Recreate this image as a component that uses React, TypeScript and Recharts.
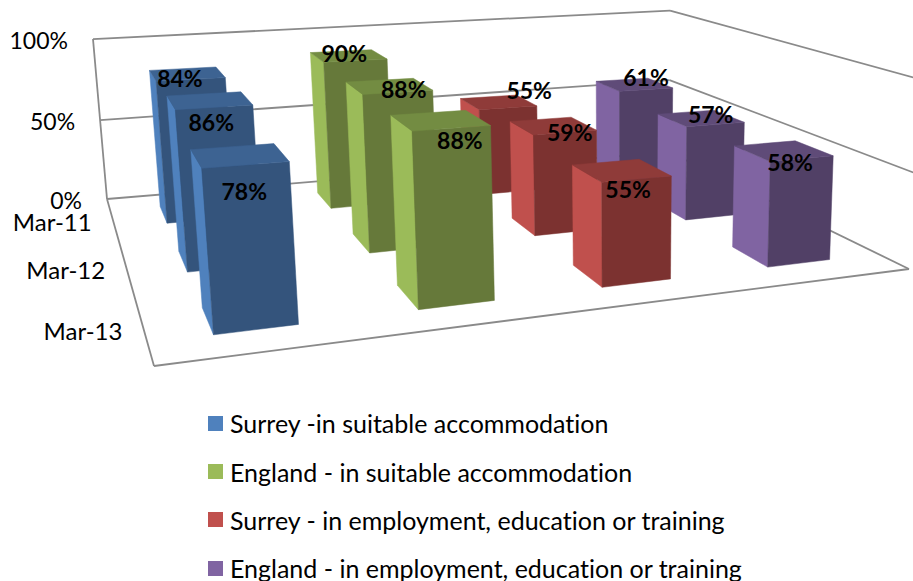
import React from 'react';
import { Bar, BarChart, Customized, LabelList, Legend, XAxis, YAxis } from 'recharts';

const CHART_W = 913;
const CHART_H = 581;
const FONT = 'Lato, sans-serif';

const SERIES = [
  'Surrey -in suitable accommodation',
  'England - in suitable accommodation',
  'Surrey - in employment, education or training',
  'England - in employment, education or training',
];
const DATES = ['Mar-11', 'Mar-12', 'Mar-13'];
const PERCENT_TICKS = [100, 50, 0];

const SURREY_ACCOMMODATION = [84, 86, 78];
const ENGLAND_ACCOMMODATION = [90, 88, 88];
const SURREY_EMPLOYMENT = [55, 59, 55];
const ENGLAND_EMPLOYMENT = [61, 57, 58];

const VALUES = [SURREY_ACCOMMODATION, ENGLAND_ACCOMMODATION, SURREY_EMPLOYMENT, ENGLAND_EMPLOYMENT];

const rows = SERIES.map((name, s) => {
  const row: Record<string, string | number> = { name };
  DATES.forEach((date, d) => {
    row[date] = VALUES[s][d];
  });
  return row;
});

// side, front and top shades per series
const FACES = [
  { side: '#4F81BD', front: '#34547C', top: '#3D6392' },
  { side: '#9BBB59', front: '#66793A', top: '#738C42' },
  { side: '#C0504D', front: '#7C3230', top: '#8F3B39' },
  { side: '#8064A2', front: '#514066', top: '#5F4B78' },
];

// label shift from the centre of a bar's top face, by date then series
const LABEL_SHIFT = [
  [[-7, 4], [-4, -3], [31, -12], [12, -8]],
  [[2, 22], [15, 3], [17, 6], [10, -4]],
  [[5, 35], [20, 20], [7, 19], [7, 11]],
];

const BAR_DEPTH = 0.4 / DATES.length;
const BAR_SIZE = Math.round((CHART_W / SERIES.length) * 0.4);
// the far right corner of the walls sits slightly above the fitted perspective
const RIGHT_WALL_LIFT = 0.03;
const depthCentre = (d: number) => (d + 0.5) / DATES.length;

// Perspective of the 3D box: u runs along the series, v towards the viewer, w up the value axis.
function project(u: number, v: number, w: number): [number, number] {
  const q = 1 + 0.17049 * u - 0.30983 * v - 0.0263 * w;
  return [
    (676.06 * u - 0.71 * v + 107 - 16.45 * w) / q,
    (-21.09 * u + 53.6 * v + 199 - 161 * w) / q,
  ];
}

const points = (list: number[][]) =>
  list.map(([u, v, w]) => project(u, v, w).map((n) => n.toFixed(1)).join(',')).join(' ');

function Walls() {
  const gridLine = (from: number[], to: number[], key: string) => {
    const [x1, y1] = project(from[0], from[1], from[2]);
    const [x2, y2] = project(to[0], to[1], to[2]);
    return <line key={key} x1={x1} y1={y1} x2={x2} y2={y2} stroke="#8A8A8A" strokeWidth={1.8} />;
  };
  return (
    <g>
      {PERCENT_TICKS.map((t) => {
        const w = t / 100;
        const farW = t > 0 ? w + RIGHT_WALL_LIFT : w;
        return (
          <g key={t}>
            {gridLine([0, 0, w], [1, 0, farW], `back-${t}`)}
            {gridLine([1, 0, farW], [1, 1, farW], `right-${t}`)}
          </g>
        );
      })}
      {gridLine([0, 0, 1], [0, 0, 0], 'left')}
      {gridLine([0, 0, 0], [0, 1, 0], 'floor-left')}
      {gridLine([0, 1, 0], [1, 1, 0], 'floor-front')}
      {PERCENT_TICKS.map((t) => {
        const [x, y] = project(0, 0, t / 100);
        return (
          <text key={t} x={x - 25} y={y + 1} textAnchor="end" dominantBaseline="central" fontFamily={FONT} fontSize={23} fill="#000">
            {t}%
          </text>
        );
      })}
      {DATES.map((date, d) => {
        const [x, y] = project(0, depthCentre(d), 0);
        return (
          <text key={date} x={x - 21} y={y + 2} textAnchor="end" dominantBaseline="central" fontFamily={FONT} fontSize={24} fill="#000">
            {date}
          </text>
        );
      })}
    </g>
  );
}

function Prism(props: any) {
  const { x, width, height, background, index, depth } = props;
  const plotH = background?.height ?? CHART_H;
  const u0 = x / CHART_W;
  const u1 = (x + width) / CHART_W;
  const w = height / plotH;
  const v0 = depthCentre(depth) - BAR_DEPTH / 2;
  const v1 = depthCentre(depth) + BAR_DEPTH / 2;
  const face = FACES[index];
  const side = [[u0, v0, 0], [u0, v1, 0], [u0, v1, w], [u0, v0, w]];
  const front = [[u0, v1, 0], [u1, v1, 0], [u1, v1, w], [u0, v1, w]];
  const top = [[u0, v0, w], [u1, v0, w], [u1, v1, w], [u0, v1, w]];
  return (
    <g>
      <polygon points={points(side)} fill={face.side} stroke={face.side} strokeWidth={0.5} />
      <polygon points={points(front)} fill={face.front} stroke={face.front} strokeWidth={0.5} />
      <polygon points={points(top)} fill={face.top} stroke={face.top} strokeWidth={0.5} />
    </g>
  );
}

function BarLabel(props: any) {
  const { x, width, value, index, viewBox, depth } = props;
  const bx = x ?? viewBox?.x;
  const bw = width ?? viewBox?.width;
  const [cx, cy] = project((bx + bw / 2) / CHART_W, depthCentre(depth), value / 100);
  const [dx, dy] = LABEL_SHIFT[depth][index];
  return (
    <text x={cx + dx} y={cy + dy} textAnchor="middle" dominantBaseline="central" fontFamily={FONT} fontWeight={700} fontSize={23} fill="#000">
      {value}%
    </text>
  );
}

function LegendRows() {
  return (
    <div style={{ fontFamily: FONT, fontSize: 25, lineHeight: '26px', color: '#000', fontVariantLigatures: 'none' }}>
      {SERIES.map((name, s) => (
        <div key={name} style={{ display: 'flex', alignItems: 'center', height: 48.4, whiteSpace: 'nowrap' }}>
          <span style={{ width: 15, height: 15, background: FACES[s].side, marginRight: 7 }} />
          {name}
        </div>
      ))}
    </div>
  );
}

export default function App() {
  return (
    <div style={{ position: 'absolute', left: 0, top: 0, width: CHART_W, height: CHART_H, overflow: 'hidden', background: '#fff' }}>
      <BarChart
        width={CHART_W}
        height={CHART_H}
        data={rows}
        barSize={BAR_SIZE}
        margin={{ top: 0, right: 5, bottom: 0, left: 0 }}
      >
        {DATES.map((date) => (
          <XAxis key={date} xAxisId={date} dataKey="name" hide />
        ))}
        <YAxis hide domain={[0, 100]} />
        <Customized component={<Walls />} />
        {DATES.map((date, d) => (
          <Bar
            key={date}
            xAxisId={date}
            dataKey={date}
            isAnimationActive={false}
            shape={(p: any) => <Prism {...p} depth={d} />}
          >
            <LabelList
              dataKey={date}
              content={(p: any) => <BarLabel {...p} depth={d} />}
            />
          </Bar>
        ))}
        <Legend
          content={<LegendRows />}
          wrapperStyle={{ left: 208, top: 399, bottom: 'auto', width: 600 }}
        />
      </BarChart>
    </div>
  );
}
